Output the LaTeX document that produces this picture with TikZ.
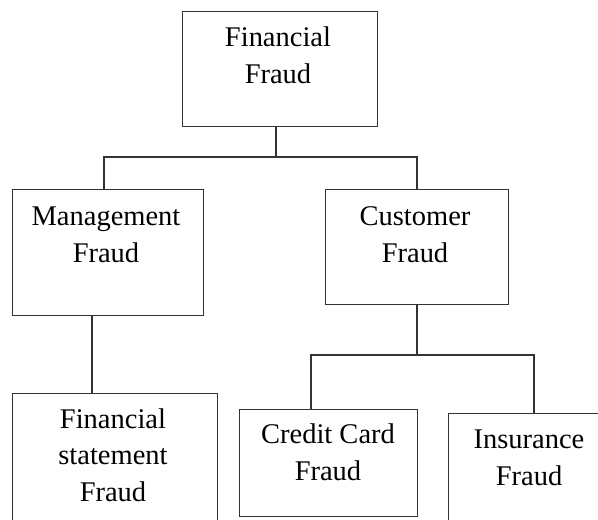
\documentclass[tikz,border=0pt]{standalone}
\usepackage{fontspec}
\setmainfont{Liberation Serif}
\begin{document}
\begin{tikzpicture}[x=1bp,y=-1bp,
  box/.style={draw=black!80,line width=1.2bp,rectangle,inner sep=0pt,anchor=north west},
  lbl/.style={align=center,anchor=base,inner sep=0pt,font=\fontsize{28.6}{36.8}\selectfont},
  conn/.style={draw=black!80,line width=1.2bp}]
\useasboundingbox (0,0) rectangle (598,520);
\clip (0,0) rectangle (598,520);
% boxes
\node[box,minimum width=195bp,minimum height=115bp] (ff) at (182,11) {};
\node[box,minimum width=191bp,minimum height=126bp] (mf) at (12,189) {};
\node[box,minimum width=183.5bp,minimum height=115bp] (cf) at (324.5,189) {};
\node[box,minimum width=205bp,minimum height=170bp] (fs) at (12,392.5) {};
\node[box,minimum width=178bp,minimum height=107bp] (cc) at (239,409) {};
\node[box,minimum width=200bp,minimum height=160bp] (ib) at (448,413) {};
% labels (base = baseline of last line)
\node[lbl] (tff) at (278,83.5) {Financial\\Fraud};
\node[lbl] (tmf) at (106,262) {Management\\Fraud};
\node[lbl] (tcf) at (415,262) {Customer\\Fraud};
\node[lbl] (tfs) at (113,501.5) {Financial\\statement\\Fraud};
\node[lbl] (tcc) at (328,480) {Credit Card\\Fraud};
\node[lbl] (tib) at (529,485) {Insurance\\Fraud};
% junctions
\coordinate (j0) at (276,157);
\coordinate (jL) at (104,157);
\coordinate (jR) at (417,157);
\coordinate (m1) at (92,350);
\coordinate (c0) at (417,355);
\coordinate (cL) at (311,355);
\coordinate (cR) at (534,355);
% connectors
\draw[conn] (j0 |- ff.south) -- (j0);
\draw[conn] (jL |- mf.north) -- (jL) -- (jR) -- (jR |- cf.north);
\draw[conn] (m1 |- mf.south) -- (m1 |- fs.north);
\draw[conn] (c0 |- cf.south) -- (c0);
\draw[conn] (cL |- cc.north) -- (cL) -- (cR) -- (cR |- ib.north);
\end{tikzpicture}
\end{document}
